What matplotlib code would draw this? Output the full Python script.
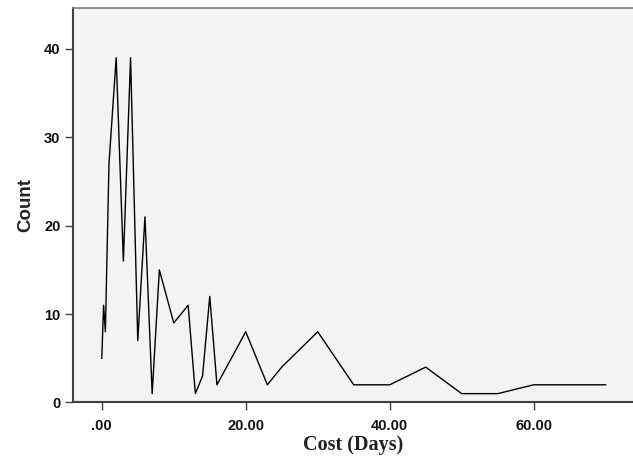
import matplotlib
matplotlib.use("Agg")
import matplotlib.pyplot as plt

# Cost in days and how many cases had that cost
cost_days = [0, 0.25, 0.5, 1, 2, 3, 4, 5, 6, 7, 8, 10, 12, 13, 14, 15, 16,
             20, 23, 25, 30, 35, 40, 45, 50, 55, 60, 70]
counts = [5, 11, 8, 27, 39, 16, 39, 7, 21, 1, 15, 9, 11, 1, 3, 12, 2,
          8, 2, 4, 8, 2, 2, 4, 1, 1, 2, 2]

x_ticks = [0, 20, 40, 60]
x_tick_labels = [".00", "20.00", "40.00", "60.00"]
y_ticks = [0, 10, 20, 30, 40]

fig = plt.figure(figsize=(6.33, 4.57), dpi=100)
ax = fig.add_axes([0.1153, 0.1193, 0.8847, 0.8626])
ax.set_facecolor("#f3f3f3")

ax.plot(cost_days, counts, color="black", linewidth=1.0)

ax.set_xlim(-4, 73.8)
ax.set_ylim(0, 44.6)

ax.set_xticks(x_ticks)
ax.set_xticklabels(x_tick_labels)
ax.set_yticks(y_ticks)

for lbl in ax.get_xticklabels() + ax.get_yticklabels():
    lbl.set_fontfamily("Liberation Sans")
    lbl.set_fontweight("bold")
    lbl.set_fontsize(10.5)
    lbl.set_color("#111111")

ax.tick_params(axis="both", direction="out", length=6, width=1.0,
               color="#404040")
ax.tick_params(axis="x", pad=6)
ax.tick_params(axis="y", pad=3)

ax.spines["right"].set_visible(False)
ax.spines["top"].set_color("#808080")
ax.spines["top"].set_linewidth(1.2)
ax.spines["left"].set_color("#404040")
ax.spines["bottom"].set_color("#404040")
ax.spines["left"].set_linewidth(1.5)
ax.spines["bottom"].set_linewidth(1.5)

ax.set_xlabel("Cost (Days)", fontfamily="Liberation Serif", fontweight="bold",
              fontsize=14.5, color="#222222", labelpad=1.5)
ax.set_ylabel("Count", fontfamily="Liberation Sans", fontweight="bold",
              fontsize=13.5, color="#222222", labelpad=7)

fig.savefig("out.png", dpi=100)
